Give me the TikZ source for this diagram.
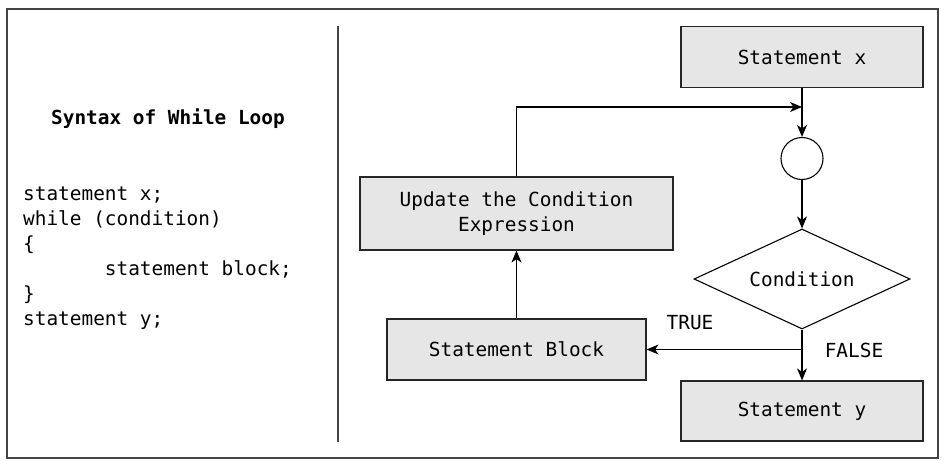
\documentclass[tikz,border=0pt]{standalone}
\usepackage{fontspec}
\setmonofont{DejaVu Sans Mono}
\usepackage{xcolor}
\usepackage{tikz}
\usetikzlibrary{shapes.geometric,arrows.meta}

\definecolor{boxfill}{HTML}{E6E6E6}
\definecolor{framecol}{HTML}{444444}

\begin{document}
\begin{tikzpicture}[x=1pt, y=-1pt,
        every node/.style={font=\ttfamily\fontsize{19.4}{25}\selectfont},
        procbox/.style={draw=black!85, line width=1.1pt, fill=boxfill, inner sep=0pt, align=center},
        decision/.style={diamond, aspect=2.16, draw=black, line width=1.1pt, inner sep=0pt, minimum width=216pt, minimum height=100pt},
        junction/.style={circle, draw=black, line width=1.1pt, inner sep=0pt, minimum size=42pt},
        flow/.style={-{Stealth[length=12pt, width=10pt, inset=3.5pt]}, line width=1.1pt}]
        \useasboundingbox (0, 0) rectangle (941, 460);
        \draw[framecol, line width=1.3pt] (7, 9) rectangle (938, 458);
        \draw[framecol, line width=1.3pt] (338, 26) -- (338, 442);
        
        % syntax on the left
        \node[anchor=base, font=\ttfamily\bfseries\fontsize{19.4}{25}\selectfont] (title) at (168, 124) {Syntax of While Loop};
        \foreach \txt [count=\i] in {statement x;, while (condition), \{, \phantom{1234567}statement block;, \}, statement y;}
            \node[anchor=base west, inner sep=0pt] (code\i) at (23, 175 + 25*\i) {\txt};
        
        % flow chart on the right
        \node[procbox, minimum width=242pt, minimum height=61pt] (stx) at (802, 57) {Statement x};
        \node[junction] (circ) at (802, 158.5) {};
        \node[decision] (cond) at (802, 279) {Condition};
        \node[procbox, minimum width=242pt, minimum height=60pt] (sty) at (802, 411) {Statement y};
        \node[procbox, minimum width=259pt, minimum height=61pt] (blk) at (516.5, 349.5) {Statement Block};
        \node[procbox, minimum width=313pt, minimum height=73pt] (upd) at (516.5, 213.5) {Update the Condition\\Expression};
        
        \coordinate (join) at (802, 107);
        \coordinate (split) at (802, 349.5);
        
        \draw[flow] (stx.south) -- (circ.north);
        \draw[flow] (upd.north) |- (join);
        \draw[flow] (circ.south) -- (cond.north);
        \draw[line width=1.1pt] (cond.south) -- (split);
        \draw[flow] (split) -- (sty.north);
        \draw[flow] (split) -- (blk.east);
        \draw[flow] (blk.north) -- (upd.south);
        
        \node (truelbl) at (690, 323) {TRUE};
        \node (falselbl) at (854, 350) {FALSE};
    \end{tikzpicture}
\end{document}
